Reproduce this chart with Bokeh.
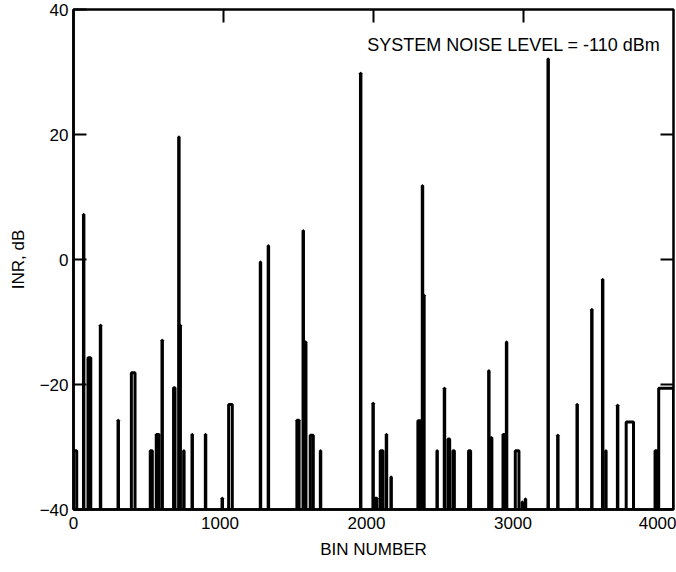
from bokeh.plotting import figure
from bokeh.models import FixedTicker, Label, ColumnDataSource
from bokeh.embed import file_html
from bokeh.resources import INLINE

# Interference peaks: bin range (lo, hi) and INR level in dB (baseline -40 dB)
peak_bin_lo = [0, 68, 99, 183, 304, 395, 524, 565, 604, 683, 718, 722, 752, 809, 900,
               1014, 1059, 1275, 1329, 1525, 1567, 1580, 1616, 1685, 1959, 2044, 2057,
               2094, 2135, 2167, 2351, 2381, 2391, 2481, 2531, 2556, 2590, 2697, 2834,
               2848, 2932, 2955, 3016, 3062, 3084, 3239, 3305, 3437, 3537, 3611, 3633,
               3713, 3773, 3970, 3995]
peak_bin_hi = [22, 71, 118, 186, 307, 420, 538, 584, 607, 693, 721, 730, 755, 812, 903,
               1017, 1084, 1278, 1332, 1540, 1570, 1587, 1637, 1688, 1962, 2047, 2072,
               2113, 2138, 2170, 2370, 2384, 2394, 2484, 2534, 2568, 2600, 2711, 2837,
               2856, 2943, 2958, 3041, 3065, 3087, 3242, 3308, 3440, 3540, 3614, 3636,
               3716, 3823, 3985, 4096]
peak_inr = [-30.6, 7.2, -15.7, -10.5, -25.7, -18.1, -30.6, -28.0, -12.9, -20.5, 19.6, -10.5,
            -30.6, -28.0, -28.0, -38.2, -23.2, -0.4, 2.2, -25.7, 4.6, -13.2, -28.1, -30.6,
            29.8, -23.0, -38.2, -30.6, -28.0, -34.8, -25.8, 11.8, -5.7, -30.6, -20.6,
            -28.7, -30.6, -30.6, -17.8, -28.5, -28.0, -13.2, -30.6, -38.8, -38.3, 32.1,
            -28.1, -23.2, -8.0, -3.2, -30.6, -23.3, -26.0, -30.6, -20.6]

x_ticks = [0, 1000, 2000, 3000, 4000]
y_ticks = [-40, -20, 0, 20, 40]
top_ticks = [1024, 2048, 3072]
right_ticks = [-20, 0, 20]
noise_floor = -40
bin_max = 4096
y_min, y_max = -40, 40

FONT = "Liberation Sans"
W, H = 676, 572
B_LEFT, B_RIGHT, B_TOP, B_BOTTOM = 73, 3, 9, 63
TICK_PX = 13
frame_w = W - B_LEFT - B_RIGHT
frame_h = H - B_TOP - B_BOTTOM

src = ColumnDataSource(dict(
    left=peak_bin_lo, right=peak_bin_hi, top=peak_inr,
    bottom=[noise_floor] * len(peak_inr)))

p = figure(width=W, height=H, x_range=(0, bin_max), y_range=(y_min, y_max),
           output_backend="svg", toolbar_location=None,
           min_border_left=B_LEFT, min_border_right=B_RIGHT,
           min_border_top=B_TOP, min_border_bottom=B_BOTTOM,
           background_fill_color="white", border_fill_color="white")

p.quad(left="left", right="right", top="top", bottom="bottom", source=src,
       fill_alpha=0, line_color="black", line_width=3)

# inward tick marks on the top and right frame edges
tick_db = TICK_PX * (y_max - y_min) / frame_h
tick_bins = TICK_PX * bin_max / frame_w
p.segment(x0=top_ticks, x1=top_ticks, y0=[y_max] * len(top_ticks),
          y1=[y_max - tick_db] * len(top_ticks), line_color="black", line_width=2)
p.segment(x0=[bin_max] * len(right_ticks), x1=[bin_max - tick_bins] * len(right_ticks),
          y0=right_ticks, y1=right_ticks, line_color="black", line_width=2)

p.xgrid.visible = False
p.ygrid.visible = False
p.outline_line_color = "black"
p.outline_line_width = 2.5

for ax in (p.xaxis[0], p.yaxis[0]):
    ax.axis_line_width = 2.5
    ax.axis_line_color = "black"
    ax.minor_tick_line_color = None
    ax.major_label_text_font = FONT
    ax.major_label_text_font_size = "17px"
    ax.major_label_text_color = "black"
    ax.axis_label_text_font = FONT
    ax.axis_label_text_font_size = "17px"
    ax.axis_label_text_font_style = "normal"
    ax.axis_label_text_color = "black"

p.xaxis.ticker = FixedTicker(ticks=x_ticks)
p.xaxis.major_tick_in = 0
p.xaxis.major_tick_out = 0
p.xaxis.major_label_standoff = 7
p.xaxis.axis_label = "BIN NUMBER"
p.xaxis.axis_label_standoff = 8

p.yaxis.ticker = FixedTicker(ticks=y_ticks)
p.yaxis.major_tick_in = TICK_PX
p.yaxis.major_tick_out = 0
p.yaxis.major_tick_line_width = 2
p.yaxis.major_label_standoff = 5
p.yaxis.axis_label = "INR, dB"
p.yaxis.axis_label_standoff = 9

note = Label(x=4007, y=34.4, text="SYSTEM NOISE LEVEL = -110 dBm",
             text_align="right", text_baseline="middle",
             text_font=FONT, text_font_size="18px", text_color="black")
p.add_layout(note)

open("out.html", "w").write(file_html(p, INLINE))
